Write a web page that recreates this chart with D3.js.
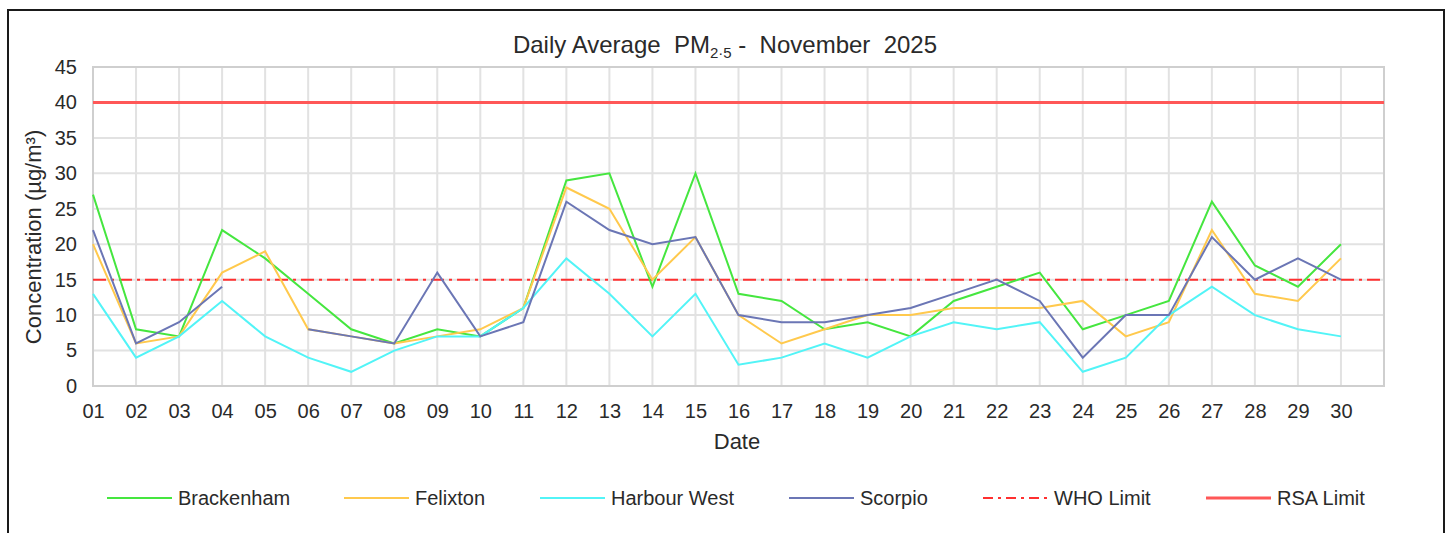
<!DOCTYPE html>
<html>
<head>
<meta charset="utf-8">
<script src="https://cdn.jsdelivr.net/npm/d3@7"></script>
<style>
  body { margin: 0; background: #fff; }
  text { font-family: "Liberation Sans", Arial, sans-serif; fill: #2a2a2a; white-space: pre; }
</style>
</head>
<body>
<svg id="chart" width="1450" height="533"></svg>
<script>
var days = d3.range(1, 31);
var dayLabels = days.map(function(d) { return (d < 10 ? "0" : "") + d; });

var brackenham = [27,8,7,22,18,13,8,6,8,7,11,29,30,14,30,13,12,8,9,7,12,14,16,8,10,12,26,17,14,20];
var felixton   = [20,6,7,16,19,8,7,6,7,8,11,28,25,15,21,10,6,8,10,10,11,11,11,12,7,9,22,13,12,18];
var harbourWest = [13,4,7,12,7,4,2,5,7,7,11,18,13,7,13,3,4,6,4,7,9,8,9,2,4,10,14,10,8,7];
var scorpio    = [22,6,9,14,null,8,7,6,16,7,9,26,22,20,21,10,9,9,10,11,13,15,12,4,10,10,21,15,18,15];

var whoLimit = 15,
    rsaLimit = 40;

var yTicks = [0,5,10,15,20,25,30,35,40,45];

var series = [
  {name: "Brackenham", values: brackenham, color: "#45e63f"},
  {name: "Felixton", values: felixton, color: "#ffc94d"},
  {name: "Harbour West", values: harbourWest, color: "#52f4f7"},
  {name: "Scorpio", values: scorpio, color: "#6b76b5"}
];

var svg = d3.select("#chart");

var plotLeft = 93, plotRight = 1384, plotTop = 67, plotBottom = 386;

var x = d3.scaleLinear().domain([1, 31]).range([plotLeft, plotRight]);
var y = d3.scaleLinear().domain([0, 45]).range([plotBottom, plotTop]);

// outer frame
svg.append("rect")
    .attr("x", 8).attr("y", 10)
    .attr("width", 1436).attr("height", 540)
    .attr("fill", "none").attr("stroke", "#1a1a1a").attr("stroke-width", 2);

// title
var title = svg.append("text")
    .attr("x", 725).attr("y", 53)
    .attr("text-anchor", "middle")
    .style("font-size", "24px");
title.append("tspan").text("Daily Average  PM");
title.append("tspan").attr("dy", 5).style("font-size", "15px").text("2·5");
title.append("tspan").attr("dy", -5).text(" -  November  2025");

// grid
svg.append("g").selectAll("line")
    .data(yTicks.slice(1))
  .enter().append("line")
    .attr("x1", plotLeft).attr("x2", plotRight)
    .attr("y1", function(d) { return y(d); }).attr("y2", function(d) { return y(d); })
    .attr("stroke", "#e2e2e2").attr("stroke-width", 2);

svg.append("g").selectAll("line")
    .data(days.slice(1))
  .enter().append("line")
    .attr("x1", function(d) { return x(d); }).attr("x2", function(d) { return x(d); })
    .attr("y1", plotTop).attr("y2", plotBottom)
    .attr("stroke", "#e2e2e2").attr("stroke-width", 2);

svg.append("rect")
    .attr("x", plotLeft).attr("y", plotTop)
    .attr("width", plotRight - plotLeft).attr("height", plotBottom - plotTop)
    .attr("fill", "none").attr("stroke", "#cfcfcf").attr("stroke-width", 2);

// axes
svg.append("g")
    .attr("transform", "translate(" + plotLeft + ",0)")
    .call(d3.axisLeft(y).tickValues(yTicks).tickSize(0).tickPadding(16));
svg.append("g")
    .attr("transform", "translate(0," + plotBottom + ")")
    .call(d3.axisBottom(x).tickValues(days).tickSize(0).tickPadding(18)
      .tickFormat(function(d, i) { return dayLabels[i]; }));
svg.selectAll(".domain").remove();
svg.selectAll(".tick text")
    .style("font-family", "'Liberation Sans', Arial, sans-serif")
    .style("font-size", "20px").attr("fill", "#2a2a2a");

svg.append("text")
    .attr("transform", "translate(41,237)rotate(-90)")
    .attr("text-anchor", "middle")
    .style("font-size", "22px")
    .text("Concentration (µg/m³)");

svg.append("text")
    .attr("x", 737).attr("y", 449)
    .attr("text-anchor", "middle")
    .style("font-size", "22px")
    .text("Date");

// limits
svg.append("line")
    .attr("x1", plotLeft).attr("x2", plotRight)
    .attr("y1", y(rsaLimit)).attr("y2", y(rsaLimit))
    .attr("stroke", "#ff5757").attr("stroke-width", 3);
svg.append("line")
    .attr("x1", plotLeft).attr("x2", plotRight)
    .attr("y1", y(whoLimit)).attr("y2", y(whoLimit))
    .attr("stroke", "#ff3030").attr("stroke-width", 2)
    .attr("stroke-dasharray", "13,5,3,5");

// series
var line = d3.line()
    .defined(function(d) { return d != null; })
    .x(function(d, i) { return x(days[i]); })
    .y(function(d) { return y(d); });

svg.append("g").selectAll("path")
    .data(series)
  .enter().append("path")
    .attr("d", function(s) { return line(s.values); })
    .attr("fill", "none")
    .attr("stroke", function(s) { return s.color; })
    .attr("stroke-width", 2);

// legend
var legendItems = series.map(function(s) { return {name: s.name, color: s.color, dash: null, width: 2}; })
  .concat([
    {name: "WHO Limit", color: "#ff3030", dash: "10,5,3,5", width: 2},
    {name: "RSA Limit", color: "#ff5757", dash: null, width: 3}
  ]);
var legendX = [107, 344, 540, 789, 983, 1206];

var legend = svg.append("g").selectAll("g")
    .data(legendItems)
  .enter().append("g")
    .attr("transform", function(d, i) { return "translate(" + legendX[i] + ",498)"; });
legend.append("line")
    .attr("x1", 0).attr("x2", 65)
    .attr("stroke", function(d) { return d.color; })
    .attr("stroke-width", function(d) { return d.width; })
    .attr("stroke-dasharray", function(d) { return d.dash; });
legend.append("text")
    .attr("x", 71).attr("y", 7)
    .style("font-size", "20px")
    .text(function(d) { return d.name; });
</script>
</body>
</html>
